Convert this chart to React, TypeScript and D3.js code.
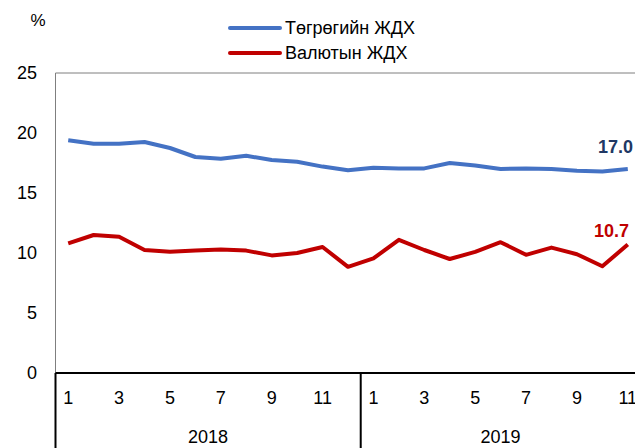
import * as d3 from 'd3'

const MONTHS = [1, 2, 3, 4, 5, 6, 7, 8, 9, 10, 11, 12, 1, 2, 3, 4, 5, 6, 7, 8, 9, 10, 11]
const YEARS = [
  { label: '2018', count: 12 },
  { label: '2019', count: 11 }
]

const MNT_RATE = [19.4, 19.1, 19.1, 19.25, 18.75, 18.0, 17.85, 18.1, 17.75, 17.6, 17.2, 16.9,
  17.1, 17.05, 17.05, 17.5, 17.3, 17.0, 17.05, 17.0, 16.85, 16.8, 17.0]

const FX_RATE = [10.8, 11.5, 11.35, 10.25, 10.1, 10.2, 10.3, 10.2, 9.8, 10.0, 10.5, 8.85,
  9.55, 11.1, 10.25, 9.5, 10.1, 10.9, 9.85, 10.45, 9.9, 8.9, 10.7]

const Y_TICKS = [0, 5, 10, 15, 20, 25]

const SERIES = [
  { name: 'Төгрөгийн ЖДХ', values: MNT_RATE, color: '#4472C4', labelColor: '#203864' },
  { name: 'Валютын ЖДХ', values: FX_RATE, color: '#C00000', labelColor: '#C00000' }
]

const FONT = 'Liberation Sans, Arial, sans-serif'

export default function App() {
  const width = 635
  const height = 448
  const left = 55.5
  const right = 640.5
  const top = 73
  const bottom = 373

  const idx = MONTHS.map((_, i) => i)
  const x = d3.scaleBand<number>().domain(idx).range([left, right])
  const y = d3.scaleLinear().domain([0, 25]).range([bottom, top])
  const cx = (i: number) => (x(i) ?? 0) + x.bandwidth() / 2

  const line = d3.line<number>()
    .x((_, i) => cx(i))
    .y(d => y(d))

  // year group boundaries
  let acc = 0
  const groups = YEARS.map(g => {
    const start = x(acc) ?? left
    acc += g.count
    const end = start + g.count * x.bandwidth()
    return { ...g, start, end }
  })

  const last = MONTHS.length - 1

  return (
    <svg width={width} height={height} style={{ position: 'absolute', left: 0, top: 0, background: '#fff' }} fontFamily={FONT}>
      {/* plot frame */}
      <line x1={left} x2={width} y1={top} y2={top} stroke="#7f7f7f" strokeWidth={1} />
      <line x1={left} x2={left} y1={top} y2={bottom} stroke="#7f7f7f" strokeWidth={1} />

      {/* y labels */}
      <text x={38} y={26} fontSize={17} textAnchor="middle" fill="#000">%</text>
      {Y_TICKS.map(t => (
        <text key={t} x={37} y={y(t)} dy="0.35em" fontSize={18} textAnchor="end" fill="#000">{t}</text>
      ))}

      {/* series */}
      {SERIES.map(s => (
        <path key={s.name} d={line(s.values) ?? ''} fill="none" stroke={s.color} strokeWidth={4} strokeLinejoin="round" />
      ))}

      {/* end labels */}
      <text x={598} y={153} fontSize={18} fontWeight="bold" fill={SERIES[0].labelColor}>
        {MNT_RATE[last].toFixed(1)}
      </text>
      <text x={594} y={237} fontSize={18} fontWeight="bold" fill={SERIES[1].labelColor}>
        {FX_RATE[last].toFixed(1)}
      </text>

      {/* x axis */}
      <line x1={left} x2={width} y1={bottom} y2={bottom} stroke="#000" strokeWidth={2} />
      {MONTHS.map((m, i) => m % 2 === 1 ? (
        <text key={i} x={cx(i)} y={398} dy="0.35em" fontSize={18} textAnchor="middle" fill="#000">{m}</text>
      ) : null)}
      {groups.map((g, i) => (
        <g key={g.label}>
          <line x1={g.start} x2={g.start} y1={bottom} y2={height} stroke="#000" strokeWidth={2} />
          {i === groups.length - 1 && (
            <line x1={g.end} x2={g.end} y1={bottom} y2={height} stroke="#000" strokeWidth={2} />
          )}
          <text x={(g.start + g.end) / 2} y={437} dy="0.35em" fontSize={18} textAnchor="middle" fill="#000">{g.label}</text>
        </g>
      ))}

      {/* legend */}
      {SERIES.map((s, i) => (
        <g key={s.name} transform={`translate(0, ${28 + i * 25})`}>
          <line x1={230} x2={280} y1={0} y2={0} stroke={s.color} strokeWidth={4} strokeLinecap="round" />
          <text x={285} y={0} dy="0.35em" fontSize={18} fill="#000">{s.name}</text>
        </g>
      ))}
    </svg>
  )
}
